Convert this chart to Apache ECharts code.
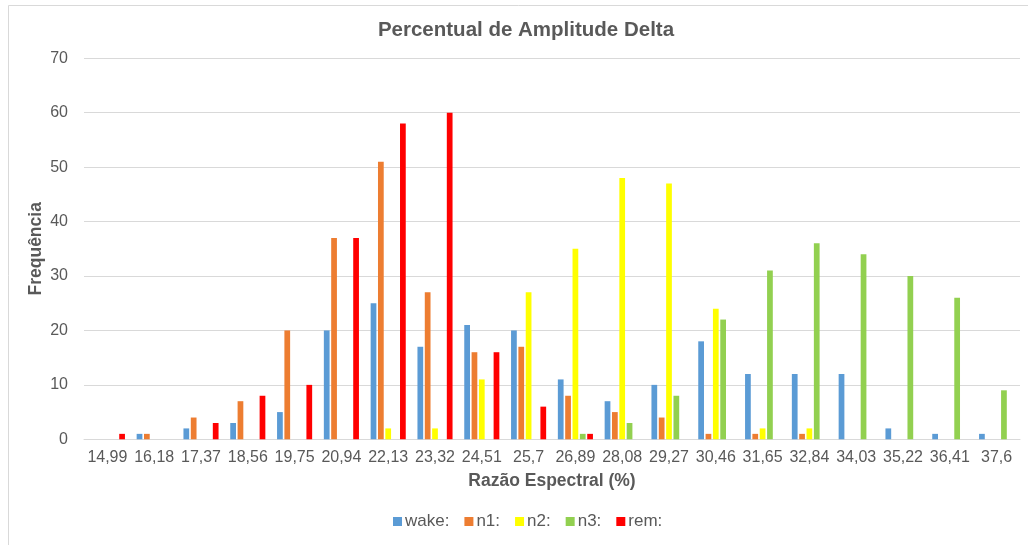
<!DOCTYPE html>
<html>
<head>
<meta charset="utf-8">
<script src="https://cdn.jsdelivr.net/npm/echarts@6/dist/echarts.min.js"></script>
<style>
html,body{margin:0;padding:0;background:#fff;}
#chart{width:1028px;height:545px;}
</style>
</head>
<body>
<div id="chart"></div>
<script>
const categories = ['14,99','16,18','17,37','18,56','19,75','20,94','22,13','23,32','24,51','25,7','26,89','28,08','29,27','30,46','31,65','32,84','34,03','35,22','36,41','37,6'];
const wake = [0,1,2,3,5,20,25,17,21,20,11,7,10,18,12,12,12,2,1,1];
const n1   = [0,1,4,7,20,37,51,27,16,17,8,5,4,1,1,1,0,0,0,0];
const n2   = [0,0,0,0,0,0,2,2,11,27,35,48,47,24,2,2,0,0,0,0];
const n3   = [0,0,0,0,0,0,0,0,0,0,1,3,8,22,31,36,34,30,26,9];
const rem  = [1,0,3,8,10,37,58,60,16,6,1,0,0,0,0,0,0,0,0,0];
const seriesNames = ['wake:','n1:','n2:','n3:','rem:'];
const seriesData = [wake,n1,n2,n3,rem];
const colors = ['#5B9BD5','#ED7D31','#FFFF00','#92D050','#FF0000'];
const yTicks = [0,10,20,30,40,50,60,70];

const chart = echarts.init(document.getElementById('chart'), null, {renderer:'canvas'});
const font = 'Liberation Sans, Arial, sans-serif';
chart.setOption({
  animation:false,
  backgroundColor:'#fff',
  graphic:[{type:'rect', shape:{x:8.5,y:5.5,width:1100,height:600}, style:{fill:'none',stroke:'#d9d9d9',lineWidth:1}, silent:true}],
  title:{text:'Percentual de Amplitude Delta', left:521, top:15, textAlign:'center',
    textStyle:{fontFamily:font,fontSize:20.5,fontWeight:'bold',color:'#595959'}},
  legend:{bottom:10, left:388, itemWidth:9, itemHeight:9, itemGap:15, icon:'rect',
    textStyle:{fontFamily:font,fontSize:17,color:'#595959', padding:[0,0,0,-2]}},
  grid:{left:84, right:8, top:58.3, bottom:105.7},
  xAxis:{type:'category', data:categories,
    name:'Razão Espectral (%)', nameLocation:'middle', nameGap:33, nameMoveOverlap:false,
    nameTextStyle:{fontFamily:font,fontSize:17.5,fontWeight:'bold',color:'#595959'},
    axisLine:{lineStyle:{color:'#d9d9d9'}}, axisTick:{show:false},
    axisLabel:{fontFamily:font,fontSize:16,color:'#595959',margin:10,interval:0}},
  yAxis:{type:'value', min:yTicks[0], max:yTicks[yTicks.length-1], interval:10,
    name:'Frequência', nameLocation:'middle', nameGap:39, nameMoveOverlap:false,
    nameTextStyle:{fontFamily:font,fontSize:17.5,fontWeight:'bold',color:'#595959'},
    axisLine:{show:false}, axisTick:{show:false},
    splitLine:{lineStyle:{color:'#d9d9d9'}},
    axisLabel:{fontFamily:font,fontSize:16,color:'#595959',margin:16}},
  series: seriesNames.map((n,i)=>({name:n, type:'bar', data:seriesData[i],
    itemStyle:{color:colors[i]}, barGap:'28%', barCategoryGap:'25%'}))
});
</script>
</body>
</html>
